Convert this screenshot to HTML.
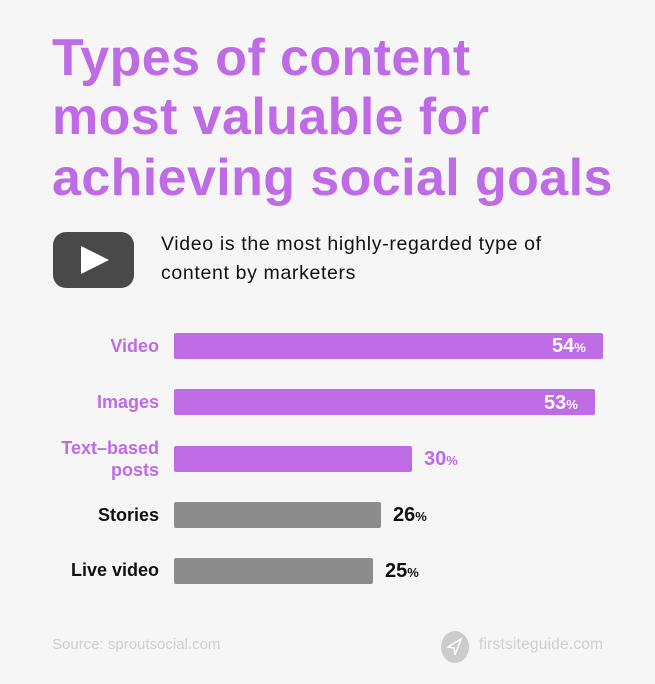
<!DOCTYPE html>
<html><head><style>
body{margin:0;width:655px;height:684px;background:#f6f6f6;position:relative;overflow:hidden;font-family:"Liberation Sans",sans-serif}
.t{position:absolute;left:52px;color:#be6be5;font-weight:bold;font-size:52px;white-space:nowrap;letter-spacing:0.4px}
.bar{position:absolute;left:174px;height:26px;border-radius:2px}
.p{background:#be6be5}.g{background:#8c8c8c}
.lab{position:absolute;right:496px;font-weight:bold;font-size:18px;text-align:right;line-height:22px}
.val{position:absolute;font-weight:bold;font-size:20px}
.val small{font-size:13px}
</style></head><body>
<div class="t" style="top:28px">Types of content</div>
<div class="t" style="top:87px">most valuable for</div>
<div class="t" style="top:148px">achieving social goals</div>
<svg style="position:absolute;left:53px;top:232px" width="81" height="56"><rect x="0" y="0" width="81" height="56" rx="13" fill="#494949"/><polygon points="28,14 28,42 56,28" fill="#fff"/></svg>
<div style="position:absolute;left:161px;top:230px;font-size:19.5px;letter-spacing:0.65px;line-height:29px;color:#111;white-space:nowrap">Video is the most highly-regarded type of<br>content by marketers</div>
<div class="lab" style="top:335px;color:#be6be5">Video</div>
<div class="bar p" style="top:333px;width:429px"></div>
<div class="val" style="top:335px;left:552px;color:#fff">54<small>%</small></div>
<div class="lab" style="top:391px;color:#be6be5">Images</div>
<div class="bar p" style="top:389px;width:421px"></div>
<div class="val" style="top:392px;left:544px;color:#fff">53<small>%</small></div>
<div class="lab" style="top:437px;color:#be6be5">Text–based<br>posts</div>
<div class="bar p" style="top:446px;width:238px"></div>
<div class="val" style="top:448px;left:424px;color:#be6be5">30<small>%</small></div>
<div class="lab" style="top:504px;color:#111">Stories</div>
<div class="bar g" style="top:502px;width:207px"></div>
<div class="val" style="top:504px;left:393px;color:#111">26<small>%</small></div>
<div class="lab" style="top:559px;color:#111">Live video</div>
<div class="bar g" style="top:558px;width:199px"></div>
<div class="val" style="top:560px;left:385px;color:#111">25<small>%</small></div>
<div style="position:absolute;left:52px;top:636px;font-size:15px;color:#cfcfcf">Source: sproutsocial.com</div>
<svg style="position:absolute;left:440px;top:630px" width="30" height="34"><ellipse cx="15" cy="17" rx="14" ry="16" fill="#cccccc"/><polygon points="8,17 21,9 15,25 14,18" fill="none" stroke="#fff" stroke-width="1.5"/></svg>
<div style="position:absolute;left:479px;top:636px;font-size:15.5px;letter-spacing:0.2px;color:#cfcfcf">firstsiteguide.com</div>
</body></html>
